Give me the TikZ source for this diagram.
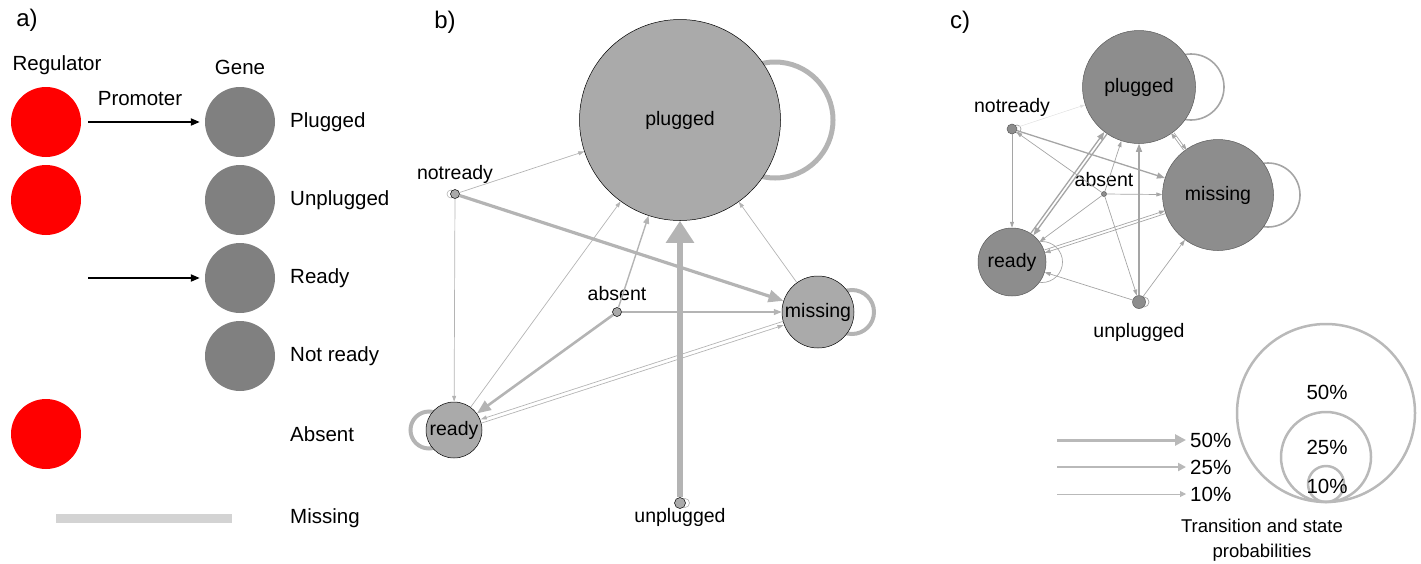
\documentclass[tikz,border=0pt]{standalone}
\usepackage{fontspec}
\setmainfont{Liberation Sans}
\usetikzlibrary{arrows.meta,shapes.geometric,backgrounds}

\newlength{\du}
\setlength{\du}{1pt}

\newcommand{\panelfont}{\fontsize{24}{28}\selectfont}
\newcommand{\keyfont}{\fontsize{20.5}{24}\selectfont}
\newcommand{\statefont}{\fontsize{19.5}{23}\selectfont}
\newcommand{\notefont}{\fontsize{18.5}{25}\selectfont}

\definecolor{regred}{RGB}{255,0,0}
\definecolor{genegray}{RGB}{128,128,128}
\definecolor{barcol}{RGB}{211,211,211}
\definecolor{bstatecol}{RGB}{170,170,170}
\definecolor{cstatecol}{RGB}{141,141,141}
\definecolor{cborder}{RGB}{90,90,90}
\definecolor{edgecol}{RGB}{180,180,180}
\definecolor{cedgecol}{RGB}{165,165,165}
\definecolor{faintcol}{RGB}{225,225,225}
\definecolor{legcol}{RGB}{185,185,185}

% arrow tips in pt (1\du = 1pt)
\tikzset{
  paneltext/.style={inner sep=0pt, font=\panelfont},
  keytext/.style={inner sep=0pt, font=\keyfont},
  regnode/.style={circle, fill=regred, minimum size=70\du, inner sep=0pt},
  genenode/.style={circle, fill=genegray, minimum size=70\du, inner sep=0pt},
  promarrow/.style={draw=black, line width=2\du, -{Triangle[length=9pt,width=7pt]}, shorten >=5pt},
  bstate/.style={circle, draw=black, line width=0.5\du, fill=bstatecol, inner sep=0pt, font=\statefont},
  cstate/.style={circle, draw=cborder, line width=0.5\du, fill=cstatecol, inner sep=0pt, font=\statefont},
  statelbl/.style={inner sep=0pt, font=\statefont},
  % transitions in b)
  bw1/.style={draw=edgecol, line width=0.7\du, -{Triangle[length=6pt,width=4pt]}},
  bw2/.style={draw=edgecol, line width=1.4\du, -{Triangle[length=8pt,width=6pt]}},
  bw3/.style={draw=edgecol, line width=2.6\du, -{Triangle[length=14pt,width=11pt]}},
  bw4/.style={draw=edgecol, line width=3.2\du, -{Triangle[length=15pt,width=12pt]}},
  bw5/.style={draw=edgecol, line width=6\du, -{Triangle[length=22pt,width=27pt]}},
  % transitions in c)
  cw0/.style={draw=faintcol, line width=0.5\du, -{Triangle[length=5pt,width=3pt]}},
  cw1/.style={draw=cedgecol, line width=0.7\du, -{Triangle[length=6pt,width=4pt]}},
  cw2/.style={draw=cedgecol, line width=1.3\du, -{Triangle[length=8pt,width=6pt]}},
  selfloop/.style={draw=#1},
  legarrow/.style={draw=legcol, -{Triangle[length=#1,width=#1]}},
  legring/.style={circle, draw=legcol, line width=2.5\du, inner sep=0pt},
}

\begin{document}
\begin{tikzpicture}
\pgftransformxscale{1.000000}
\pgftransformyscale{-1.000000}
\useasboundingbox (0\du,0\du) rectangle (1421\du,563\du);

% a) legend of states
\node[paneltext] (pa) at (27\du,20\du) {a)};
\node[keytext] (regl) at (57\du,65\du) {Regulator};
\node[keytext] (genel) at (240\du,67\du) {Gene};
\node[keytext] (proml) at (140\du,99\du) {Promoter};
\node[regnode] (r1) at (46\du,122\du) {};
\node[regnode] (r2) at (46\du,200\du) {};
\node[regnode] (r3) at (46\du,434\du) {};
\node[genenode] (g1) at (240\du,122\du) {};
\node[genenode] (g2) at (240\du,200\du) {};
\node[genenode] (g3) at (240\du,278\du) {};
\node[genenode] (g4) at (240\du,356\du) {};
\node[keytext, anchor=west] (k1) at (290\du,122\du) {Plugged};
\node[keytext, anchor=west] (k2) at (290\du,200\du) {Unplugged};
\node[keytext, anchor=west] (k3) at (290\du,278\du) {Ready};
\node[keytext, anchor=west] (k4) at (290\du,356\du) {Not ready};
\node[keytext, anchor=west] (k5) at (290\du,434\du) {Absent};
\node[keytext, anchor=west] (k6) at (290\du,518\du) {Missing};
\coordinate (pr1) at (88\du,122\du);
\coordinate (pr2) at (88\du,278\du);
\draw[promarrow] (pr1) -- (g1);
\draw[promarrow] (pr2) -- (g3);
\coordinate (mb1) at (56\du,518\du);
\coordinate (mb2) at (232\du,518\du);
\draw[barcol, line width=9\du] (mb1) -- (mb2);

% b) transition graph
\node[paneltext] (pb) at (445\du,22\du) {b)};
\node[bstate, minimum size=201\du] (pl) at (680\du,120\du) {plugged};
\node[bstate, minimum size=72\du] (ms) at (818\du,312\du) {missing};
\node[bstate, minimum size=56\du] (rd) at (454\du,430\du) {ready};
\node[bstate, minimum size=9\du] (nr) at (455\du,194\du) {};
\node[bstate, minimum size=9\du] (ab) at (617\du,312\du) {};
\node[bstate, minimum size=11\du] (up) at (680\du,503\du) {};
\node[statelbl] (nrl) at (455\du,174\du) {notready};
\node[statelbl] (abl) at (617\du,294\du) {absent};
\node[statelbl] (upl) at (680\du,517\du) {unplugged};
\draw[bw1] (nr) -- (pl);
\draw[bw4] (nr) -- (ms);
\draw[bw1] (nr) -- (rd);
\draw[bw1] (rd) -- (pl);
\draw[bw2] (ab) -- (pl);
\draw[bw3] (ab) -- (rd);
\draw[bw2] (ab) -- (ms);
\draw[bw1, transform canvas={yshift=-2\du}] (rd) -- (ms);
\draw[bw1, transform canvas={yshift=2\du}] (ms) -- (rd);
\draw[bw1] (ms) -- (pl);
\draw[bw5] (up) -- (pl);
\begin{pgfonlayer}{background}
\draw[selfloop=edgecol, line width=5\du] ([xshift=95\du]pl.center) circle[radius=58\du];
\draw[selfloop=edgecol, line width=4\du] ([xshift=34\du]ms.center) circle[radius=22\du];
\draw[selfloop=edgecol, line width=4\du] ([xshift=-25\du]rd.center) circle[radius=18.5\du];
\draw[selfloop=edgecol, line width=0.6\du] ([xshift=-4\du]nr.center) circle[radius=4\du];
\draw[selfloop=edgecol, line width=0.6\du] ([xshift=5\du]up.center) circle[radius=4.5\du];
\end{pgfonlayer}

% c) transition graph
\node[paneltext] (pc) at (960\du,22\du) {c)};
\node[cstate, minimum size=113\du] (pl2) at (1139\du,87\du) {plugged};
\node[cstate, minimum size=111\du] (ms2) at (1218\du,195\du) {missing};
\node[cstate, minimum size=68\du] (rd2) at (1012\du,262\du) {ready};
\node[cstate, minimum size=10\du] (nr2) at (1012\du,129\du) {};
\node[cstate, minimum size=5\du] (ab2) at (1104\du,194\du) {};
\node[cstate, minimum size=13\du] (up2) at (1139\du,302\du) {};
\node[statelbl] (nrl2) at (1012\du,107\du) {notready};
\node[statelbl] (abl2) at (1104\du,180\du) {absent};
\node[statelbl] (upl2) at (1139\du,332\du) {unplugged};
\draw[cw0] (nr2) -- (pl2);
\draw[cw2] (nr2) -- (ms2);
\draw[cw1] (nr2) -- (rd2);
\draw[cw1] (ab2) -- (nr2);
\draw[cw2, transform canvas={shift={(-1.3\du,1\du)}}] (rd2) -- (pl2);
\draw[cw2, transform canvas={shift={(1.3\du,-1\du)}}] (pl2) -- (rd2);
\draw[cw1] (ab2) -- (pl2);
\draw[cw2] (up2) -- (pl2);
\draw[cw1] (ab2) -- (ms2);
\draw[cw1] (ab2) -- (rd2);
\draw[cw1] (ab2) -- (up2);
\draw[cw1, transform canvas={yshift=1.5\du}] (rd2) -- (ms2);
\draw[cw1, transform canvas={yshift=-1.5\du}] (ms2) -- (rd2);
\draw[cw1] (up2) -- (rd2);
\draw[cw1] (up2) -- (ms2);
\draw[cw1, transform canvas={xshift=1.5\du}] (pl2) -- (ms2);
\draw[cw1, transform canvas={xshift=-1.5\du}] (ms2) -- (pl2);
\begin{pgfonlayer}{background}
\draw[selfloop=cedgecol, line width=1.6\du] ([xshift=52\du]pl2.center) circle[radius=33\du];
\draw[selfloop=cedgecol, line width=1.6\du] ([xshift=50\du]ms2.center) circle[radius=32\du];
\draw[selfloop=cedgecol, line width=0.7\du] ([xshift=30\du]rd2.center) circle[radius=20.5\du];
\draw[selfloop=cedgecol, line width=0.7\du] ([xshift=5\du]nr2.center) circle[radius=4\du];
\draw[selfloop=cedgecol, line width=0.7\du] ([xshift=5\du]up2.center) circle[radius=5\du];
\end{pgfonlayer}

% legend of probabilities
\coordinate (la50) at (1057\du,440\du);
\coordinate (la25) at (1057\du,467\du);
\coordinate (la10) at (1057\du,494\du);
\node[keytext, anchor=west] (t50) at (1190\du,440\du) {50\%};
\node[keytext, anchor=west] (t25) at (1190\du,467\du) {25\%};
\node[keytext, anchor=west] (t10) at (1190\du,494\du) {10\%};
\draw[legarrow=11pt, line width=3\du] (la50) -- ([xshift=-4\du]t50.west);
\draw[legarrow=8pt, line width=2\du] (la25) -- ([xshift=-4\du]t25.west);
\draw[legarrow=6pt, line width=1\du] (la10) -- ([xshift=-4\du]t10.west);
\node[legring, minimum size=178\du] (c50) at (1326\du,413\du) {};
\node[legring, minimum size=90\du] (c25) at (1326\du,457\du) {};
\node[legring, minimum size=36\du] (c10) at (1326\du,484\du) {};
\node[keytext] (s50) at (1327\du,392\du) {50\%};
\node[keytext] (s25) at (1327\du,447\du) {25\%};
\node[keytext] (s10) at (1327\du,486\du) {10\%};
\node[inner sep=0pt, font=\notefont, align=center] (cap) at (1262\du,540\du) {Transition and state\\probabilities};
\end{tikzpicture}
\end{document}
